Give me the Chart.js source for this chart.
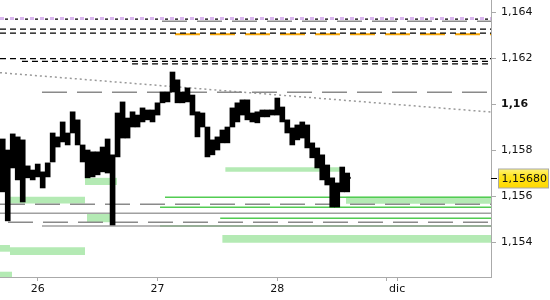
<!DOCTYPE html>
<html>
<head>
<meta charset="utf-8">
<script src="https://cdn.jsdelivr.net/npm/chart.js@4/dist/chart.umd.min.js"></script>
<style>
  html, body { margin: 0; padding: 0; background: #fff; }
  #wrap { width: 550px; height: 300px; }
</style>
</head>
<body>
<div id="wrap"><canvas id="myChart" width="550" height="300"></canvas></div>
<script>
// time in hours from 26 Nov 00:00
const hourMin = -7.55;
const hourMax = 90.8;
const priceMin = 1.15249;
const priceMax = 1.16453;

const yTicks = [1.154, 1.156, 1.158, 1.16, 1.162, 1.164];
const xTickHours = [0, 24, 48, 69.9, 72];
const xTickLabels = ['26', '27', '28', '', 'dic'];

// hourly bars
const barHours = [-7, -6, -5, -4, -3, -2, -1, 0, 1, 2, 3, 4, 5, 6, 7, 8, 9, 10, 11, 12,
    13, 14, 15, 16, 17, 18, 19, 20, 21, 22, 23, 24, 25, 26, 27, 28, 29, 30, 31, 32,
    33, 34, 35, 36, 37, 38, 39, 40, 41, 42, 43, 44, 45, 46, 47, 48, 49, 50, 51, 52,
    53, 54, 55, 56, 57, 58, 59, 60, 61, 62];
const barHigh = [1.15849, 1.15801, 1.15871, 1.15858, 1.15845, 1.15732, 1.15714, 1.15740, 1.15706, 1.15745,
    1.15875, 1.15858, 1.15923, 1.15875, 1.15967, 1.15932, 1.15823, 1.15801, 1.15793, 1.15793,
    1.15814, 1.15849, 1.15780, 1.15962, 1.16010, 1.15940, 1.15967, 1.15953, 1.15984, 1.15975,
    1.15975, 1.16006, 1.16053, 1.16053, 1.16140, 1.16106, 1.16053, 1.16071, 1.16040, 1.15967,
    1.15962, 1.15901, 1.15845, 1.15858, 1.15888, 1.15901, 1.15984, 1.16006, 1.16019, 1.16019,
    1.15962, 1.15967, 1.15975, 1.15975, 1.15975, 1.16027, 1.15988, 1.15932, 1.15897, 1.15910,
    1.15923, 1.15910, 1.15832, 1.15810, 1.15780, 1.15736, 1.15680, 1.15658, 1.15727, 1.15701];
const barLow = [1.15619, 1.15493, 1.15723, 1.15671, 1.15575, 1.15680, 1.15671, 1.15684, 1.15636, 1.15684,
    1.15749, 1.15814, 1.15836, 1.15823, 1.15875, 1.15823, 1.15749, 1.15680, 1.15684, 1.15693,
    1.15706, 1.15701, 1.15475, 1.15771, 1.15853, 1.15853, 1.15901, 1.15901, 1.15923, 1.15932,
    1.15923, 1.15953, 1.16006, 1.16010, 1.16053, 1.16006, 1.16006, 1.16010, 1.15953, 1.15858,
    1.15901, 1.15771, 1.15780, 1.15801, 1.15832, 1.15832, 1.15901, 1.15923, 1.15953, 1.15932,
    1.15923, 1.15919, 1.15945, 1.15945, 1.15953, 1.15953, 1.15923, 1.15875, 1.15823, 1.15845,
    1.15853, 1.15810, 1.15767, 1.15723, 1.15671, 1.15649, 1.15553, 1.15553, 1.15619, 1.15619];
const lastClose = 1.1568;
const lastHour = 62;

// levels
const purpleLevel = 1.16373;
const orangeLevel = 1.16304;
const orangeFrom = 27.5;
const blackDashLevels = [1.16370, 1.16326, 1.16309, 1.16198, 1.16186, 1.16175];
const blackDashFrom = [hourMin, hourMin, hourMin, hourMin, -3.15, 18.9];
const grayDashLevels = [1.16361, 1.16052, 1.15565, 1.15487];
const grayDashFrom = [24.9, 0.86, hourMin, -5.95];
const graySolidLevels = [1.15526, 1.15471];
const graySolidFrom = [hourMin, 0.86];
const greenLevels = [1.15596, 1.15552, 1.15504, 1.15471];
const greenFrom = [25.5, 24.5, 36.56, 24.5];
const trendStart = 1.16137;
const trendEnd = 1.15966;

// zones
const zoneTop = [1.15598, 1.15680, 1.15526, 1.15388, 1.15378, 1.15272, 1.15726, 1.15598, 1.15432];
const zoneBottom = [1.15568, 1.15649, 1.15487, 1.15359, 1.15345, 1.15249, 1.15707, 1.15567, 1.15398];
const zoneFrom = [-5.55, 9.48, 9.88, hourMin, -5.55, hourMin, 37.56, 61.76, 36.96];
const zoneTo = [9.48, 15.88, 14.48, -5.55, 9.48, -5.15, 61.6, hourMax, hourMax];

const fmt = v => String(+v.toFixed(5)).replace('.', ',');

const level = (value, from, style) => ({
    type: 'line',
    data: [{ x: from, y: value }, { x: hourMax, y: value }],
    pointRadius: 0,
    fill: false,
    order: 1,
    ...style,
});

const datasets = [];

datasets.push({
    type: 'bar',
    data: barHours.map((h, i) => ({ x: h, y: [barLow[i], barHigh[i]] })),
    backgroundColor: '#000',
    borderWidth: 0,
    barThickness: 5,
    order: 0,
});
datasets.push({
    type: 'line',
    data: [{ x: lastHour, y: lastClose }, { x: lastHour + 0.7, y: lastClose }],
    borderColor: '#000', borderWidth: 2, pointRadius: 0, order: 0,
});

graySolidLevels.forEach((v, i) => datasets.push(level(v, graySolidFrom[i], { borderColor: '#a0a0a0', borderWidth: 1.5 })));
grayDashLevels.forEach((v, i) => datasets.push(level(v, grayDashFrom[i], { borderColor: '#8a8a8a', borderWidth: 1.5, borderDash: [25, 10] })));
greenLevels.forEach((v, i) => datasets.push(level(v, greenFrom[i], { borderColor: '#52cc52', borderWidth: 1.5 })));
datasets.push(level(purpleLevel, hourMin, { borderColor: '#d7b4ec', borderWidth: 3, borderDash: [4, 6] }));
blackDashLevels.forEach((v, i) => datasets.push(level(v, blackDashFrom[i], i === 0
    ? { borderColor: '#000', borderWidth: 1.2, borderDash: [3, 7], borderDashOffset: -5 }
    : { borderColor: '#000', borderWidth: 1.2, borderDash: [6, 4] })));
datasets.push(level(orangeLevel, orangeFrom, { borderColor: '#f5a300', borderWidth: 2, borderDash: [25, 10] }));
datasets.push({
    type: 'line',
    data: [{ x: hourMin, y: trendStart }, { x: hourMax, y: trendEnd }],
    borderColor: '#999', borderWidth: 1.5, borderDash: [2, 3], pointRadius: 0, order: 1,
});

zoneTop.forEach((v, i) => datasets.push({
    type: 'line',
    data: [{ x: zoneFrom[i], y: v }, { x: zoneTo[i], y: v }],
    borderWidth: 0,
    pointRadius: 0,
    backgroundColor: '#b4eab4',
    fill: { value: zoneBottom[i] },
    order: 2,
}));

const priceTag = {
    id: 'priceTag',
    afterDraw(chart) {
        const { ctx, chartArea } = chart;
        const y = Math.round(chart.scales.y.getPixelForValue(lastClose)) + 0.5;
        ctx.save();
        ctx.strokeStyle = '#000';
        ctx.lineWidth = 1;
        ctx.beginPath();
        ctx.moveTo(chartArea.right, y);
        ctx.lineTo(chartArea.right + 6, y);
        ctx.stroke();
        const bx = chartArea.right + 7, bw = 51, bh = 19, by = y - 9.5;
        const g = ctx.createLinearGradient(0, by, 0, by + bh);
        g.addColorStop(0, '#fff37a');
        g.addColorStop(0.4, '#ffe41a');
        g.addColorStop(1, '#ffd800');
        ctx.fillStyle = g;
        ctx.fillRect(bx, by, bw, bh);
        ctx.strokeStyle = '#a8a8a8';
        ctx.strokeRect(bx + 0.5, by, bw - 1, bh);
        ctx.fillStyle = '#111';
        ctx.font = '11px "DejaVu Sans"';
        ctx.textBaseline = 'middle';
        ctx.fillText(lastClose.toFixed(5).replace('.', ','), bx + 3.5, y + 0.5);
        ctx.restore();
    }
};

Chart.defaults.font.family = '"DejaVu Sans", sans-serif';
Chart.defaults.font.size = 11;
Chart.defaults.color = '#111';

new Chart(document.getElementById('myChart').getContext('2d'), {
    type: 'bar',
    data: { datasets },
    options: {
        responsive: false,
        animation: false,
        layout: { padding: 0 },
        plugins: { legend: { display: false }, tooltip: { enabled: false } },
        scales: {
            x: {
                type: 'linear',
                min: hourMin,
                max: hourMax,
                offset: false,
                grid: { drawOnChartArea: false, offset: false, tickLength: 4, color: '#aaa' },
                border: { color: '#aaa', width: 1 },
                afterBuildTicks: s => { s.ticks = xTickHours.map(v => ({ value: v })); },
                afterFit: s => { s.height = 23; s.paddingLeft = 0; s.paddingRight = 0; },
                ticks: {
                    autoSkip: false,
                    maxRotation: 0,
                    padding: 2,
                    callback: v => xTickLabels[xTickHours.indexOf(v)],
                },
            },
            y: {
                type: 'linear',
                position: 'right',
                min: priceMin,
                max: priceMax,
                beginAtZero: false,
                grid: { drawOnChartArea: false, tickLength: 5, color: '#aaa' },
                border: { color: '#aaa', width: 1 },
                afterBuildTicks: s => { s.ticks = yTicks.map(v => ({ value: v })); },
                afterFit: s => { s.width = 59; s.paddingTop = 0; s.paddingBottom = 0; },
                ticks: {
                    autoSkip: false,
                    padding: 5,
                    callback: v => fmt(v),
                    font: c => ({
                        family: '"DejaVu Sans", sans-serif',
                        size: 11,
                        weight: c.tick && Math.abs(c.tick.value - 1.16) < 1e-9 ? 'bold' : 'normal',
                    }),
                },
            },
        },
    },
    plugins: [priceTag],
});
</script>
</body>
</html>
